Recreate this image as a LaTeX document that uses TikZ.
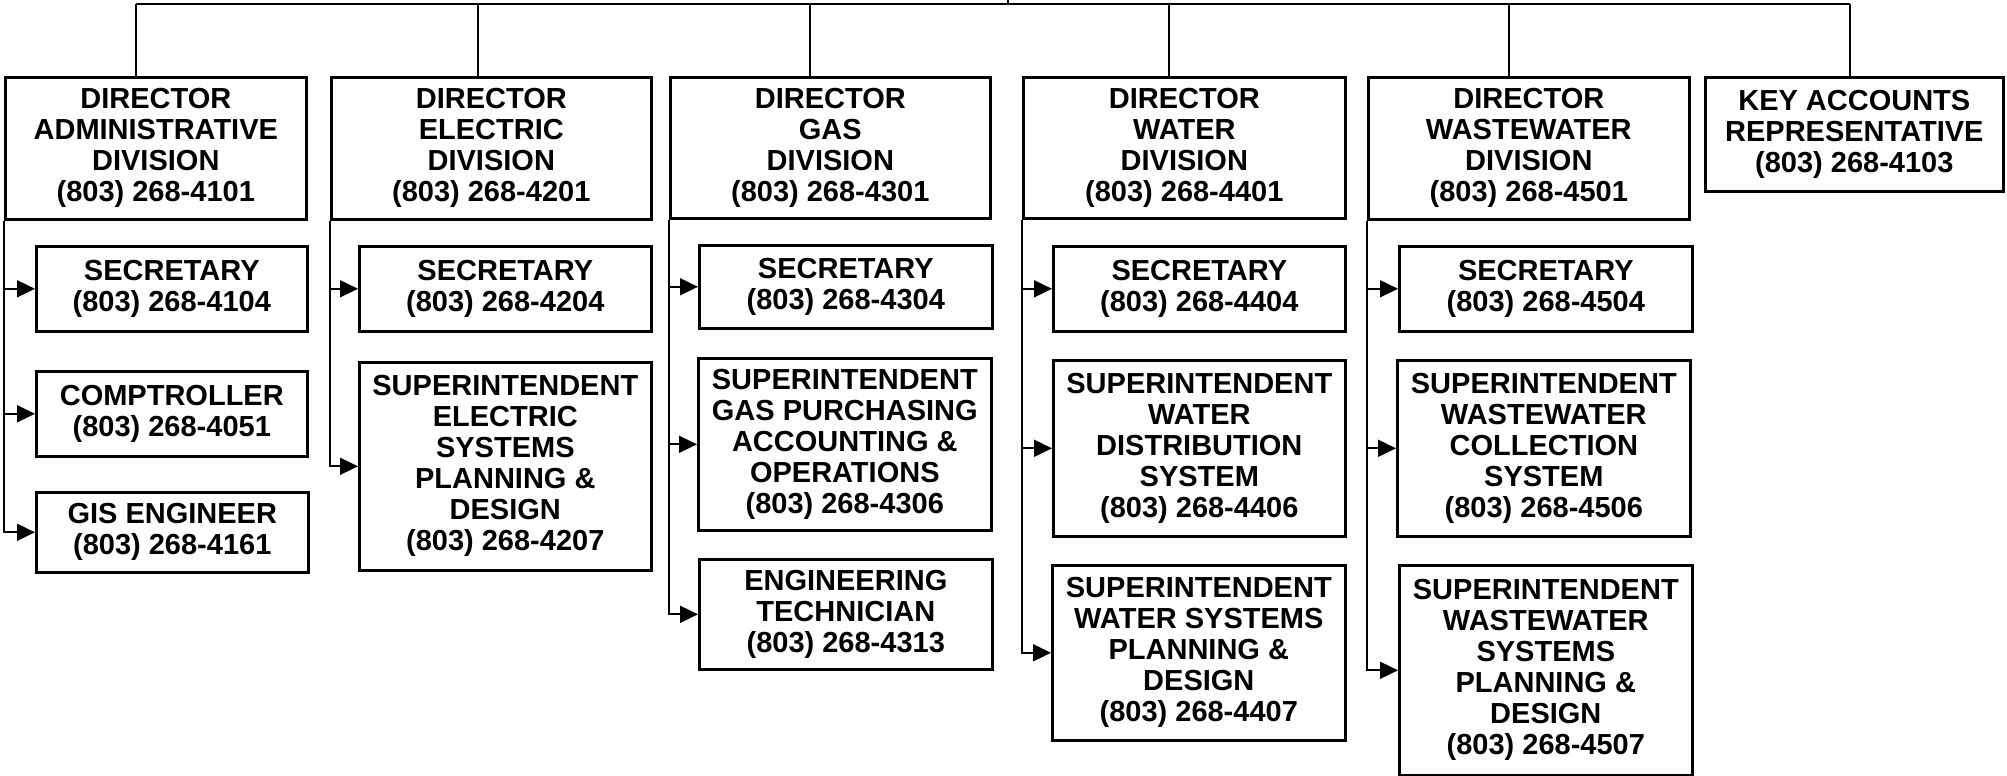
\documentclass[tikz,border=0pt]{standalone}
\usepackage{fontspec}
\setmainfont{Liberation Sans}
\usetikzlibrary{arrows.meta}

\begin{document}
\begin{tikzpicture}[x=1pt, y=-1pt,
        post/.style={draw, line width=2.6pt, anchor=north west, inner sep=0pt, align=center,
            font=\fontsize{29}{31}\selectfont\bfseries},
        size/.style 2 args={minimum width=#1pt, minimum height=#2pt},
        link/.style={line width=1.8pt},
        feed/.style={line width=1.8pt, -{Triangle[length=18pt, width=17pt]}}]
            \useasboundingbox (0,0) rectangle (2007,776);

            % directors
            \node[post, size={301}{142}] (admdir) at (4,76) {DIRECTOR\\ADMINISTRATIVE\\DIVISION\\(803) 268-4101};
            \node[post, size={320}{142}] (eledir) at (330,76) {DIRECTOR\\ELECTRIC\\DIVISION\\(803) 268-4201};
            \node[post, size={320}{141}] (gasdir) at (669,76) {DIRECTOR\\GAS\\DIVISION\\(803) 268-4301};
            \node[post, size={322}{141}] (watdir) at (1022,76) {DIRECTOR\\WATER\\DIVISION\\(803) 268-4401};
            \node[post, size={321}{142}] (wwdir) at (1367,76) {DIRECTOR\\WASTEWATER\\DIVISION\\(803) 268-4501};
            \node[post, size={298}{114}] (keyrep) at (1704,76) {KEY ACCOUNTS\\REPRESENTATIVE\\(803) 268-4103};

            % administrative staff
            \node[post, size={271}{85}] (admsec) at (35,245) {SECRETARY\\(803) 268-4104};
            \node[post, size={271}{85}] (admcomp) at (35,370) {COMPTROLLER\\(803) 268-4051};
            \node[post, size={272}{80}] (admgis) at (35,491) {GIS ENGINEER\\(803) 268-4161};

            % electric staff
            \node[post, size={292}{85}] (elesec) at (358,245) {SECRETARY\\(803) 268-4204};
            \node[post, size={292}{208}] (elesup) at (358,361) {SUPERINTENDENT\\ELECTRIC\\SYSTEMS\\PLANNING \&\\DESIGN\\(803) 268-4207};

            % gas staff
            \node[post, size={293}{83}] (gassec) at (698,244) {SECRETARY\\(803) 268-4304};
            \node[post, size={293}{172}] (gassup) at (697,357) {SUPERINTENDENT\\GAS PURCHASING\\ACCOUNTING \&\\OPERATIONS\\(803) 268-4306};
            \node[post, size={293}{110}] (gastech) at (698,558) {ENGINEERING\\TECHNICIAN\\(803) 268-4313};

            % water staff
            \node[post, size={292}{85}] (watsec) at (1052,245) {SECRETARY\\(803) 268-4404};
            \node[post, size={292}{176}] (watdist) at (1052,359) {SUPERINTENDENT\\WATER\\DISTRIBUTION\\SYSTEM\\(803) 268-4406};
            \node[post, size={293}{175}] (watplan) at (1051,564) {SUPERINTENDENT\\WATER SYSTEMS\\PLANNING \&\\DESIGN\\(803) 268-4407};

            % wastewater staff
            \node[post, size={293}{85}] (wwsec) at (1398,245) {SECRETARY\\(803) 268-4504};
            \node[post, size={293}{176}] (wwcoll) at (1396,359) {SUPERINTENDENT\\WASTEWATER\\COLLECTION\\SYSTEM\\(803) 268-4506};
            \node[post, size={293}{210}] (wwplan) at (1398,564) {SUPERINTENDENT\\WASTEWATER\\SYSTEMS\\PLANNING \&\\DESIGN\\(803) 268-4507};

            % bus on top
            \coordinate (up) at (1008,0);
            \coordinate (admtap) at (136,4);
            \coordinate (eletap) at (478,4);
            \coordinate (gastap) at (810,4);
            \coordinate (wattap) at (1169,4);
            \coordinate (wwtap) at (1509,4);
            \coordinate (keytap) at (1850,4);
            \draw[link] (admtap) -- (keytap);
            \draw[line width=2.6pt] (up) -- (up |- admtap);
            \draw[link] (admtap) -- (admtap |- admdir.north);
            \draw[link] (eletap) -- (eletap |- eledir.north);
            \draw[link] (gastap) -- (gastap |- gasdir.north);
            \draw[link] (wattap) -- (wattap |- watdir.north);
            \draw[link] (wwtap) -- (wwtap |- wwdir.north);
            \draw[link] (keytap) -- (keytap |- keyrep.north);

            % branches down the left side
            \draw[feed] (admdir.south west) |- (admsec.west);
            \draw[feed] (admdir.south west) |- (admcomp.west);
            \draw[feed] (admdir.south west) |- (admgis.west);

            \draw[feed] (eledir.south west) |- (elesec.west);
            \draw[feed] (eledir.south west) |- (elesup.west);

            \draw[feed] (gasdir.south west) |- (gassec.west);
            \draw[feed] (gasdir.south west) |- (gassup.west);
            \draw[feed] (gasdir.south west) |- (gastech.west);

            \draw[feed] (watdir.south west) |- (watsec.west);
            \draw[feed] (watdir.south west) |- (watdist.west);
            \draw[feed] (watdir.south west) |- (watplan.west);

            \draw[feed] (wwdir.south west) |- (wwsec.west);
            \draw[feed] (wwdir.south west) |- (wwcoll.west);
            \draw[feed] (wwdir.south west) |- (wwplan.west);
        \end{tikzpicture}
\end{document}
